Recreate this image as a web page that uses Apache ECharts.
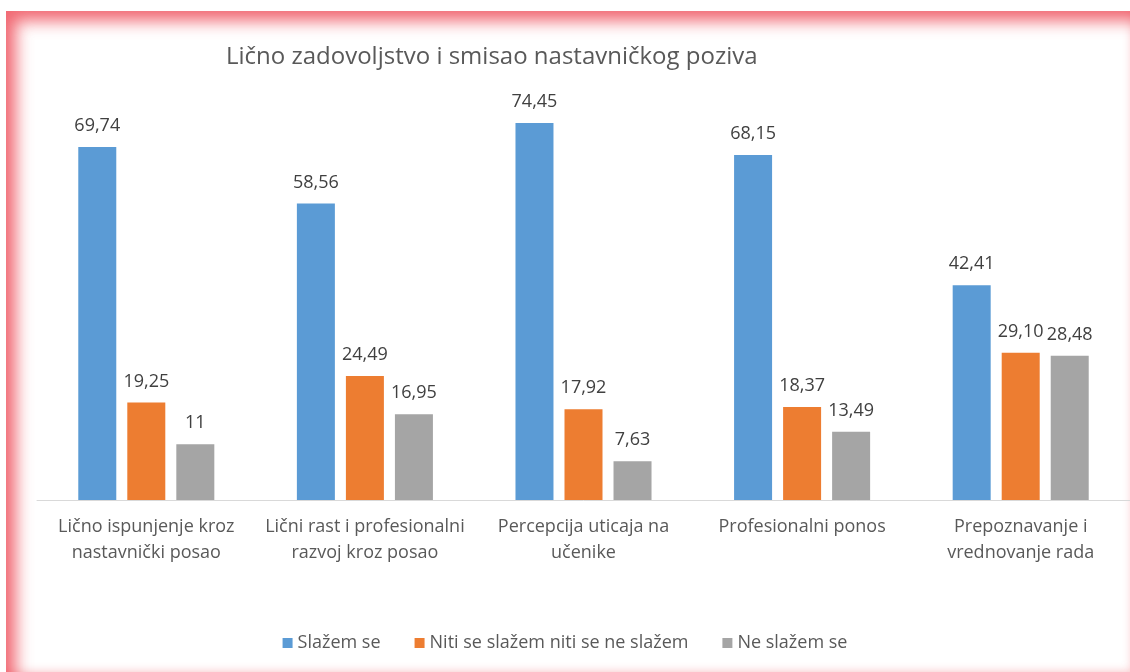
<!DOCTYPE html>
<html>
<head>
<meta charset="utf-8">
<script src="https://cdn.jsdelivr.net/npm/echarts@6/dist/echarts.min.js"></script>
<style>
  html, body { margin: 0; padding: 0; background: #fff; }
  #wrap { position: relative; width: 1130px; height: 672px; overflow: hidden; }
  #frame {
    position: absolute; left: 6px; top: 11px; width: 1130px; height: 665px;
    box-shadow: inset 14px 14px 16px -4px rgba(238, 80, 92, 0.85),
                inset -8px -8px 10px -4px rgba(240, 110, 120, 0.45);
  }
  #chart { position: absolute; left: 0; top: 0; width: 1130px; height: 672px; }
</style>
</head>
<body>
<div id="wrap">
  <div id="frame"></div>
  <div id="chart"></div>
</div>
<script>
var categories = [
  "Lično ispunjenje kroz\nnastavnički posao",
  "Lični rast i profesionalni\nrazvoj kroz posao",
  "Percepcija uticaja na\nučenike",
  "Profesionalni ponos",
  "Prepoznavanje i\nvrednovanje rada"
];
var slazemSe = [69.74, 58.56, 74.45, 68.15, 42.41];
var nitiNiti = [19.25, 24.49, 17.92, 18.37, 29.10];
var neSlazem = [11, 16.95, 7.63, 13.49, 28.48];

var font = "Open Sans";

function fmt(p) {
  var v = p.value;
  return Number.isInteger(v) ? String(v) : v.toFixed(2).replace(".", ",");
}

function makeSeries(name, data, color) {
  return {
    name: name,
    type: "bar",
    data: data,
    barWidth: 38,
    barGap: "29%",
    itemStyle: { color: color },
    label: {
      show: true,
      position: "top",
      distance: 12,
      formatter: fmt,
      color: "#404040",
      fontSize: 18,
      fontFamily: font
    }
  };
}

var chart = echarts.init(document.getElementById("chart"));
chart.setOption({
  backgroundColor: "transparent",
  animation: false,
  title: {
    text: "Lično zadovoljstvo i smisao nastavničkog poziva",
    left: 221,
    top: 40,
    textStyle: { color: "#595959", fontSize: 24, fontWeight: "normal", fontFamily: font }
  },
  legend: {
    bottom: 15,
    left: "center",
    itemWidth: 10,
    itemHeight: 10,
    itemGap: 34,
    icon: "rect",
    textStyle: { color: "#595959", fontSize: 18, fontFamily: font },
    data: ["Slažem se", "Niti se slažem niti se ne slažem", "Ne slažem se"]
  },
  grid: { left: 37, right: -3, top: 95, bottom: 172 },
  xAxis: {
    type: "category",
    data: categories,
    axisTick: { show: false },
    axisLine: { lineStyle: { color: "#d9d9d9", width: 1 } },
    axisLabel: {
      color: "#595959",
      fontSize: 18,
      fontFamily: font,
      lineHeight: 26,
      margin: 14,
      interval: 0
    }
  },
  yAxis: {
    type: "value",
    min: 0,
    max: 80,
    show: false,
    splitLine: { show: false }
  },
  series: [
    makeSeries("Slažem se", slazemSe, "#5b9bd5"),
    makeSeries("Niti se slažem niti se ne slažem", nitiNiti, "#ed7d31"),
    makeSeries("Ne slažem se", neSlazem, "#a5a5a5")
  ]
});
</script>
</body>
</html>
